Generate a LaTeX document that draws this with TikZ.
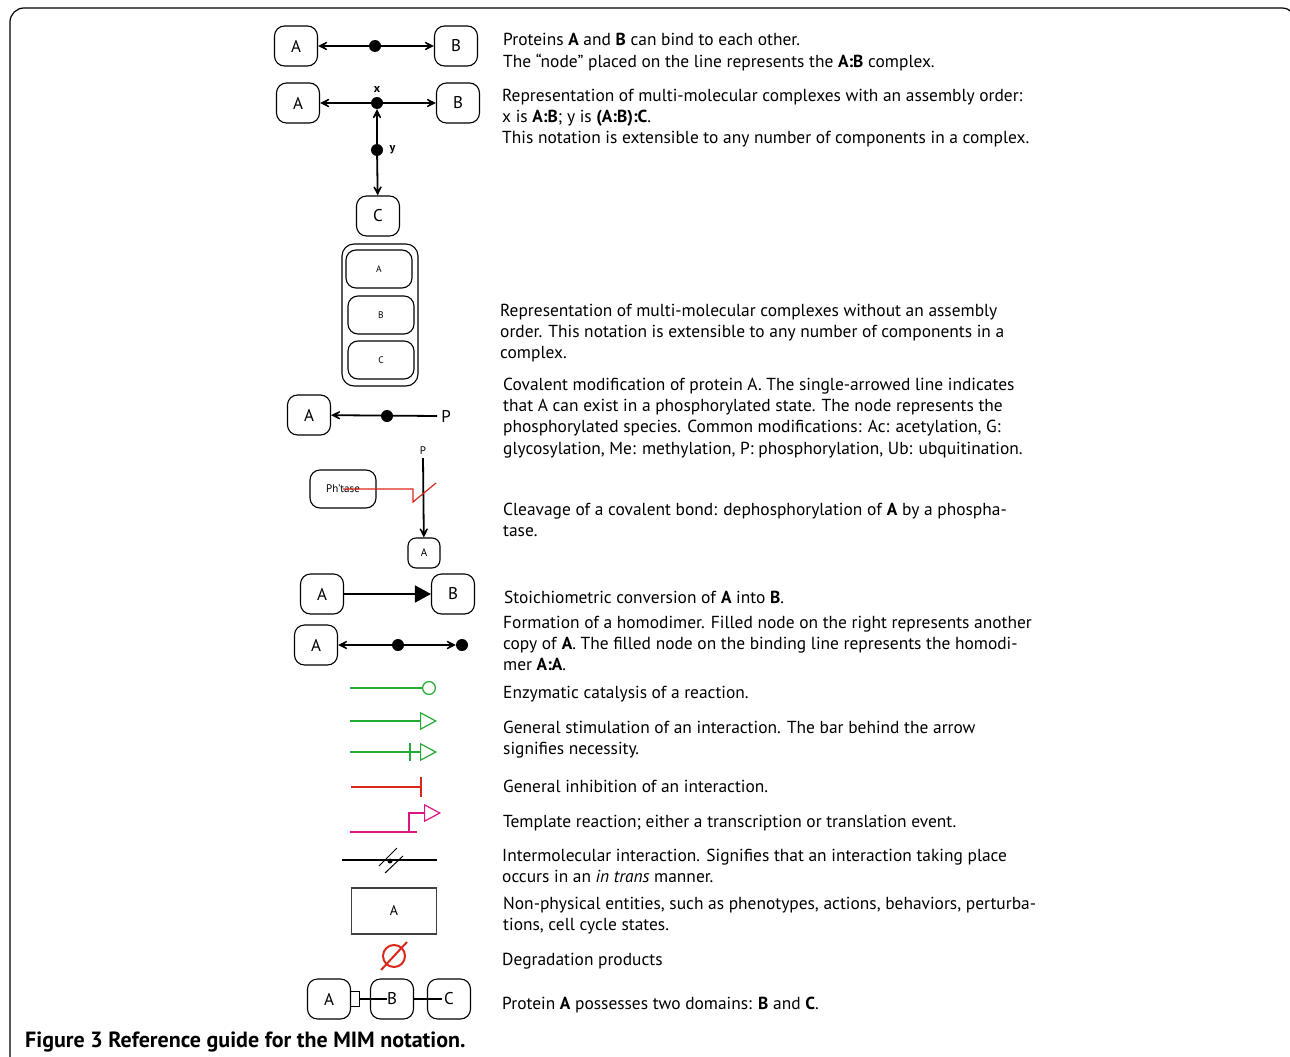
\documentclass[tikz,border=0pt]{standalone}
\usepackage{fontspec}
\setmainfont{PT Sans}
\usetikzlibrary{positioning,calc,arrows.meta}
\definecolor{catgreen}{RGB}{34,170,51}
\definecolor{inhred}{RGB}{218,40,28}
\definecolor{tplpink}{RGB}{222,20,130}
\newcommand{\desclines}[1]{\begin{tabular}[t]{@{}l@{}}#1\end{tabular}}

\begin{document}
\begin{tikzpicture}[x=1pt,y=-1pt]
  \tikzset{prot/.style={draw, rounded corners=10pt, minimum width=43pt, minimum height=40pt,
      inner sep=0pt, line width=1.1pt, font=\fontsize{17}{20}\selectfont},
    subunit/.style={prot, minimum width=66pt, minimum height=38pt, font=\fontsize{9.5}{10}\selectfont},
    dot/.style={circle, fill, inner sep=0pt, minimum size=12pt},
    bind/.style={line width=1.8pt, -{Stealth[length=14pt,width=14pt,inset=9pt]}},
    fx/.style={line width=1.8pt},
    desc/.style={anchor=base west, inner sep=0pt, font=\fontsize{17.4}{21.4}\selectfont}
  }
  \useasboundingbox (0,0) rectangle (1290,1057);
  \draw[line width=1.2pt, rounded corners=14pt] (10,1070) -- (10,8) -- (1296,8) -- (1296,1070);

  % binding
  \node[prot] (a1) at (296,46) {A};
  \node[prot] (b1) at (456,46) {B};
  \node[dot] (d1) at (375,46) {};
  \draw[bind] (d1) -- (a1);
  \draw[bind] (d1) -- (b1);

  % ordered complex
  \node[prot] (a2) at (298,103) {A};
  \node[prot] (b2) at (458,103) {B};
  \node[prot] (c2) at (378,216) {C};
  \node[dot] (dx) at (377,103) {};
  \node[dot] (dy) at (377,150) {};
  \node[above=1pt of dx, font=\bfseries\fontsize{12}{12}\selectfont] (lx) {x};
  \node[right=3pt of dy, font=\bfseries\fontsize{12}{12}\selectfont] (ly) {y};
  \draw[bind] (dx) -- (a2);
  \draw[bind] (dx) -- (b2);
  \draw[bind] (dy) -- (dx);
  \draw[bind] (dy) -- (c2);

  % unordered complex
  \node[prot, minimum width=76pt, minimum height=142pt, rounded corners=12pt] (cx) at (380,315) {};
  \node[subunit] (ca) at (379,269) {A};
  \node[subunit] (cb) at (381,315) {B};
  \node[subunit] (cc) at (381,360) {C};

  % covalent modification
  \node[prot] (a3) at (309,415) {A};
  \node[inner sep=0pt, font=\fontsize{17}{20}\selectfont] (p3) at (446,416) {P};
  \draw[bind] ([xshift=-4pt]p3.west) -- (a3);
  \node[dot] (d3) at (387,416) {};

  % cleavage
  \node[inner sep=0pt, font=\fontsize{11}{11}\selectfont] (p4) at (423,451) {P};
  \node[subunit, font=\fontsize{11}{11}\selectfont] (ph) at (343,489) {Ph’tase};
  \node[prot, minimum width=32pt, minimum height=30pt, rounded corners=8pt, font=\fontsize{11}{11}\selectfont] (a4) at (424,553) {A};
  \draw[bind] ([yshift=-3pt]p4.south) -- (a4);
  \draw[inhred, line width=1.2pt] (ph.center) -- ++(70,0) -- ++(0,13) -- ++(23,-19);

  % conversion
  \node[prot] (a5) at (322,594) {A};
  \node[prot] (b5) at (453,594) {B};
  \draw[fx, -{Triangle[length=16pt,width=17pt]}] (a5) -- (b5);

  % homodimer
  \node[prot] (a6) at (316,645) {A};
  \node[dot] (d6) at (398,645) {};
  \node[dot] (e6) at (462,645) {};
  \draw[bind] (d6) -- (a6);
  \draw[bind] (d6) -- (e6);

  % catalysis, stimulation, necessity, inhibition, template
  \coordinate (k1) at (350,688);  \coordinate (k2) at (436,688);
  \draw[fx, catgreen, -{Circle[open,length=14pt,line width=1.2pt]}] (k1) -- (k2);
  \coordinate (s1) at (350,721);  \coordinate (s2) at (437,721);
  \draw[fx, catgreen, -{Triangle[open,length=17pt,width=18pt,line width=1.2pt]}] (s1) -- (s2);
  \coordinate (n1) at (350,752);  \coordinate (n2) at (437,752);  \coordinate (nb) at (410,752);
  \draw[fx, catgreen, -{Triangle[open,length=17pt,width=18pt,line width=1.2pt]}] (n1) -- (n2);
  \draw[fx, catgreen] ([yshift=9pt]nb) -- ([yshift=-9pt]nb);
  \coordinate (i1) at (351,787);  \coordinate (i2) at (422,787);
  \draw[fx, inhred, -{Bar[width=20pt]}] (i1) -- (i2);
  \coordinate (r1) at (350,832);  \coordinate (r2) at (417,832);
  \coordinate (r3) at (409,832);  \coordinate (r4) at (441,813);
  \draw[fx, tplpink] (r1) -- (r2);
  \draw[fx, tplpink, -{Triangle[open,length=17pt,width=18pt,line width=1.2pt]}] (r3) |- (r4);

  % in trans
  \coordinate (m1) at (342,860);  \coordinate (m2) at (437,860);
  \draw[fx] (m1) -- (m2);
  \draw[line width=1pt] (379,866) -- (397,848) (385,873) -- (403,856);
  \fill (390,861) circle[radius=2.5];

  % non-physical entity and degradation
  \node[draw=black!75, line width=1.1pt, minimum width=85pt, minimum height=46pt,
    font=\fontsize{14}{14}\selectfont] (np) at (394,911) {A};
  \node[circle, draw=inhred, line width=2pt, minimum size=22pt, inner sep=0pt] (dg) at (394,956) {};
  \draw[inhred, line width=2pt] ([shift={(-13,14)}]dg.center) -- ([shift={(13,-14)}]dg.center);

  % domains
  \node[prot] (a9) at (329,999) {A};
  \node[prot] (b9) at (392,999) {B};
  \node[prot] (c9) at (449,999) {C};
  \node[draw, line width=1.2pt, minimum width=9pt, minimum height=15pt, inner sep=0pt] (sq) at (355,999) {};
  \draw[fx] (sq.east) -- ([xshift=-5pt]b9.center);
  \draw[fx] (b9.east) -- ([xshift=-7pt]c9.center);

  % descriptions
  \node[desc] (t1) at (503,46) {\desclines{Proteins \textbf{A} and \textbf{B} can bind to each other.\\
    The “node” placed on the line represents the \textbf{A:B} complex.}};
  \node[desc] (t2) at (502,101) {\desclines{Representation of multi-molecular complexes with an assembly order:\\
    x is \textbf{A:B}; y is \textbf{(A:B):C}.\\
    This notation is extensible to any number of components in a complex.}};
  \node[desc] (t3) at (500,316) {\desclines{Representation of multi-molecular complexes without an assembly\\
    order. This notation is extensible to any number of components in a\\
    complex.}};
  \node[desc] (t4) at (503,390) {\desclines{Covalent modification of protein A. The single-arrowed line indicates\\
    that A can exist in a phosphorylated state. The node represents the\\
    phosphorylated species. Common modifications: Ac: acetylation, G:\\
    glycosylation, Me: methylation, P: phosphorylation, Ub: ubquitination.}};
  \node[desc] (t5) at (503,515) {\desclines{Cleavage of a covalent bond: dephosphorylation of \textbf{A} by a phospha-\\
    tase.}};
  \node[desc] (t6) at (504,603) {Stoichiometric conversion of \textbf{A} into \textbf{B}.};
  \node[desc] (t7) at (503,628) {\desclines{Formation of a homodimer. Filled node on the right represents another\\
    copy of \textbf{A}. The filled node on the binding line represents the homodi-\\
    mer \textbf{A:A}.}};
  \node[desc] (t8) at (503,698) {Enzymatic catalysis of a reaction.};
  \node[desc] (t9) at (503,733) {\desclines{General stimulation of an interaction. The bar behind the arrow\\
    signifies necessity.}};
  \node[desc] (t10) at (503,792) {General inhibition of an interaction.};
  \node[desc] (t11) at (503,827) {Template reaction; either a transcription or translation event.};
  \node[desc] (t12) at (502,861) {\desclines{Intermolecular interaction. Signifies that an interaction taking place\\
    occurs in an \emph{in trans} manner.}};
  \node[desc] (t13) at (503,909) {\desclines{Non-physical entities, such as phenotypes, actions, behaviors, perturba-\\
    tions, cell cycle states.}};
  \node[desc] (t14) at (502,965) {Degradation products};
  \node[desc] (t15) at (502,1009) {Protein \textbf{A} possesses two domains: \textbf{B} and \textbf{C}.};

  \node[anchor=base west, inner sep=0pt, font=\bfseries\fontsize{22}{24}\selectfont] (cap) at (25,1047)
    {Figure 3 Reference guide for the MIM notation.};
\end{tikzpicture}
\end{document}
